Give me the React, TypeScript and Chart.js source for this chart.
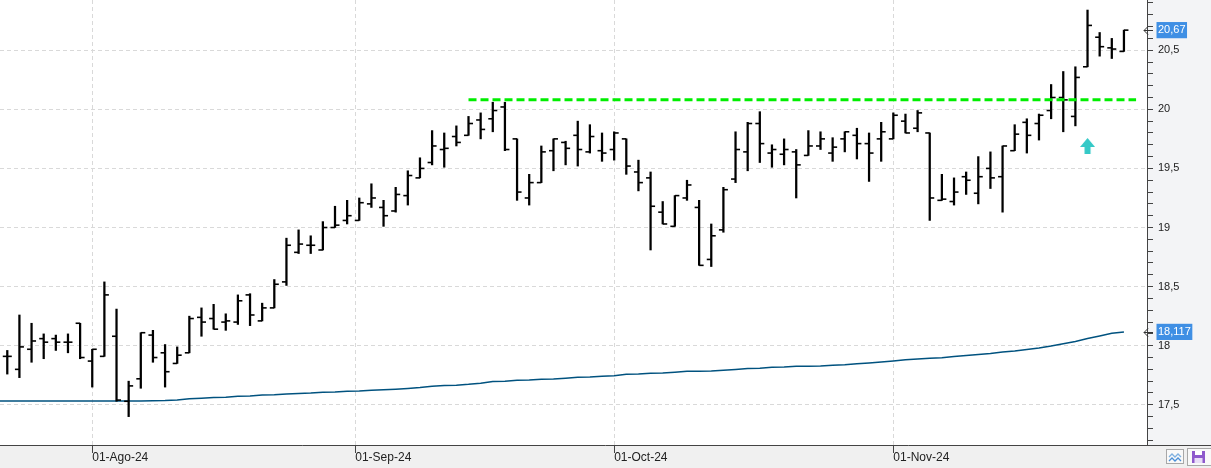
import React, { useEffect, useRef } from 'react';
import { Chart, registerables } from 'chart.js';

Chart.register(...registerables);

// ---- categories: trading sessions ----
const julDays = [23, 24, 25, 26, 29, 30, 31];
const augDays = [1, 2, 5, 6, 7, 8, 9, 12, 13, 14, 15, 16, 19, 20, 21, 22, 23, 26, 27, 28, 29, 30];
const sepDays = [2, 3, 4, 5, 6, 9, 10, 11, 12, 13, 16, 17, 18, 19, 20, 23, 24, 25, 26, 27, 30];
const octDays = [1, 2, 3, 4, 7, 8, 9, 10, 11, 14, 15, 16, 17, 18, 21, 22, 23, 24, 25, 28, 29, 30, 31];
const novDays = [1, 4, 5, 6, 7, 8, 11, 12, 13, 14, 15, 18, 19, 20, 21, 22, 25, 26, 27, 28];
const tradingDays: string[] = [
  ...julDays.map((d) => `${d}-Jul-24`),
  ...augDays.map((d) => `${d}-Ago-24`),
  ...sepDays.map((d) => `${d}-Sep-24`),
  ...octDays.map((d) => `${d}-Oct-24`),
  ...novDays.map((d) => `${d}-Nov-24`),
];

// ---- OHLC series ----
const opens = [
  17.91, 17.80, 17.97, 18.06, 18.06, 18.03, 18.19, 17.87, 17.91, 18.08,
  17.53, 17.72, 18.09, 17.94, 17.85, 17.94, 18.24, 18.23, 18.20, 18.20,
  18.43, 18.21, 18.32, 18.54, 18.79, 18.85, 18.81, 19.00, 19.06, 19.06,
  19.20, 19.17, 19.14, 19.27, 19.42, 19.55, 19.66, 19.77, 19.78, 19.91,
  19.92, 20.02, 19.75, 19.25, 19.38, 19.65, 19.72, 19.78, 19.64, 19.65,
  19.66, 19.75, 19.47, 19.42, 19.13, 19.01, 19.25, 19.17, 18.73, 18.98,
  19.41, 19.64, 19.88, 19.63, 19.62, 19.64, 19.61, 19.69, 19.63, 19.75,
  19.78, 19.71, 19.75, 19.75, 19.90, 19.84, 19.80, 19.23, 19.22, 19.43,
  19.29, 19.50, 19.43, 19.65, 19.89, 19.88, 19.99, 20.10, 19.94, 20.36,
  20.61, 20.52, 20.49,
];
const highs = [
  17.96, 18.26, 18.19, 18.10, 18.09, 18.10, 18.19, 17.97, 18.54, 18.31,
  17.70, 18.11, 18.13, 18.01, 17.99, 18.25, 18.32, 18.35, 18.27, 18.43,
  18.44, 18.36, 18.56, 18.91, 18.98, 18.93, 19.05, 19.18, 19.23, 19.25,
  19.37, 19.23, 19.34, 19.48, 19.59, 19.82, 19.80, 19.86, 19.94, 19.97,
  20.06, 20.06, 19.75, 19.45, 19.69, 19.75, 19.73, 19.90, 19.87, 19.80,
  19.81, 19.75, 19.57, 19.47, 19.22, 19.27, 19.40, 19.23, 19.03, 19.34,
  19.81, 19.89, 19.98, 19.70, 19.75, 19.66, 19.82, 19.81, 19.76, 19.81,
  19.84, 19.80, 19.89, 19.97, 19.96, 19.99, 19.80, 19.45, 19.42, 19.47,
  19.60, 19.64, 19.69, 19.87, 19.92, 19.96, 20.21, 20.32, 20.36, 20.84,
  20.65, 20.60, 20.67,
];
const lows = [
  17.76, 17.73, 17.86, 17.89, 17.96, 17.94, 17.89, 17.65, 17.91, 17.53,
  17.40, 17.64, 17.86, 17.65, 17.85, 17.94, 18.08, 18.14, 18.13, 18.18,
  18.17, 18.21, 18.32, 18.51, 18.78, 18.78, 18.81, 19.00, 19.03, 19.06,
  19.17, 19.01, 19.13, 19.19, 19.42, 19.53, 19.51, 19.69, 19.78, 19.75,
  19.81, 19.65, 19.23, 19.19, 19.38, 19.48, 19.53, 19.52, 19.63, 19.56,
  19.57, 19.45, 19.31, 18.81, 19.03, 19.01, 19.23, 18.68, 18.67, 18.96,
  19.38, 19.48, 19.55, 19.51, 19.53, 19.25, 19.61, 19.66, 19.56, 19.64,
  19.58, 19.39, 19.56, 19.75, 19.80, 19.81, 19.06, 19.23, 19.19, 19.28,
  19.20, 19.33, 19.13, 19.65, 19.63, 19.74, 19.92, 19.81, 19.86, 20.36,
  20.45, 20.43, 20.49,
];
const closes = [
  17.91, 17.99, 18.04, 18.03, 18.03, 18.03, 17.90, 17.97, 18.43, 17.54,
  17.66, 18.11, 17.90, 17.78, 17.92, 18.23, 18.20, 18.14, 18.21, 18.38,
  18.26, 18.32, 18.52, 18.85, 18.86, 18.85, 19.00, 19.02, 19.10, 19.21,
  19.25, 19.10, 19.28, 19.44, 19.50, 19.69, 19.67, 19.72, 19.88, 19.83,
  19.99, 19.66, 19.30, 19.38, 19.64, 19.75, 19.67, 19.66, 19.77, 19.63,
  19.80, 19.52, 19.38, 19.18, 19.03, 19.27, 19.36, 18.68, 18.93, 19.32,
  19.66, 19.88, 19.71, 19.66, 19.66, 19.53, 19.69, 19.75, 19.68, 19.81,
  19.71, 19.63, 19.81, 19.95, 19.80, 19.97, 19.25, 19.24, 19.30, 19.40,
  19.43, 19.42, 19.69, 19.79, 19.78, 19.95, 20.10, 20.08, 20.27, 20.71,
  20.53, 20.51, 20.67,
];

// ---- moving average (first value belongs to the session before the view) ----
const maStartIndex = -1;
const movingAverage = [
  17.532, 17.532, 17.532, 17.532, 17.532, 17.532, 17.532, 17.532, 17.532, 17.532,
  17.532, 17.532, 17.532, 17.535, 17.536, 17.541, 17.552, 17.556, 17.562, 17.565,
  17.573, 17.574, 17.582, 17.585, 17.591, 17.596, 17.600, 17.607, 17.608, 17.615,
  17.617, 17.623, 17.627, 17.632, 17.639, 17.646, 17.657, 17.663, 17.666, 17.673,
  17.683, 17.697, 17.700, 17.707, 17.710, 17.716, 17.718, 17.725, 17.733, 17.735,
  17.741, 17.746, 17.758, 17.761, 17.767, 17.769, 17.775, 17.783, 17.783, 17.786,
  17.792, 17.799, 17.807, 17.810, 17.817, 17.820, 17.826, 17.826, 17.828, 17.834,
  17.838, 17.847, 17.854, 17.862, 17.871, 17.881, 17.887, 17.893, 17.899, 17.909,
  17.917, 17.926, 17.934, 17.947, 17.955, 17.968, 17.981, 17.997, 18.016, 18.036,
  18.061, 18.082, 18.105, 18.117,
];

// ---- resistance level and breakout signal ----
const resistanceLevel = 20.08;
const resistanceFromIndex = 38;
const resistanceToIndex = 93;
const signalIndex = 89;
const signalValue = 19.69;

// ---- axis ticks ----
const monthTickIndex = [7, 28.67, 50, 73];
const monthTickLabels = ['01-Ago-24', '01-Sep-24', '01-Oct-24', '01-Nov-24'];
const viewStart = -0.6;
const viewEnd = 93.9;
const priceMin = 17.16;
const priceMax = 20.925;

const lastClose = closes[closes.length - 1];
const lastMa = movingAverage[movingAverage.length - 1];

const FONT = 'Liberation Sans';

const isTag = (v: number) => v === lastClose || v === lastMa;
const isMajor = (v: number) => !isTag(v) && Math.abs(v * 2 - Math.round(v * 2)) < 1e-6;
const fmt = (v: number, d: number) => v.toFixed(d).replace('.', ',');

function makeArrow(): HTMLCanvasElement {
  const c = document.createElement('canvas');
  c.width = 15;
  c.height = 16;
  const g = c.getContext('2d')!;
  g.fillStyle = '#35c9c7';
  g.beginPath();
  g.moveTo(7.5, 0);
  g.lineTo(15, 9);
  g.lineTo(10.5, 9);
  g.lineTo(10.5, 16);
  g.lineTo(4.5, 16);
  g.lineTo(4.5, 9);
  g.lineTo(0, 9);
  g.closePath();
  g.fill();
  return c;
}

const framePlugin = {
  id: 'frame',
  beforeDraw(chart: any) {
    const { ctx, width, height, chartArea: a } = chart;
    ctx.save();
    ctx.fillStyle = '#f3f4f6';
    ctx.fillRect(0, 0, width, height);
    ctx.fillStyle = '#f0f0f0';
    ctx.fillRect(0, a.bottom, width, height - a.bottom);
    ctx.fillStyle = '#ffffff';
    ctx.fillRect(a.left, a.top, a.right - a.left, a.bottom - a.top);
    ctx.restore();
  },
  afterDraw(chart: any) {
    const { ctx, width, chartArea: a } = chart;
    ctx.save();
    ctx.strokeStyle = '#444';
    ctx.lineWidth = 1;
    const yb = Math.round(a.bottom) + 0.5;
    ctx.beginPath();
    ctx.moveTo(0, yb);
    ctx.lineTo(width, yb);
    ctx.stroke();
    const ys = chart.scales.y;
    ctx.strokeStyle = '#333';
    [lastClose, lastMa].forEach((v) => {
      const y = Math.round(ys.getPixelForValue(v)) + 0.5;
      const x0 = ys.left - 3;
      ctx.beginPath();
      ctx.moveTo(x0, y);
      ctx.lineTo(x0 + 9, y);
      ctx.moveTo(x0 + 4, y - 4);
      ctx.lineTo(x0, y);
      ctx.lineTo(x0 + 4, y + 4);
      ctx.stroke();
    });
    ctx.restore();
  },
};

export default function App() {
  const ref = useRef<HTMLCanvasElement | null>(null);

  useEffect(() => {
    document.body.style.margin = '0';
    document.body.style.overflow = 'hidden';
    const canvas = ref.current;
    if (!canvas) return;
    const arrowImg = makeArrow();

    const chart = new Chart(canvas, {
      type: 'bar',
      data: {
        labels: tradingDays,
        datasets: [
          {
            type: 'line',
            label: 'Resistencia',
            data: [
              { x: resistanceFromIndex, y: resistanceLevel },
              { x: resistanceToIndex, y: resistanceLevel },
            ],
            borderColor: '#00ee00',
            borderWidth: 3,
            borderDash: [8, 4],
            pointRadius: 0,
            order: 0,
          } as any,
          {
            type: 'scatter',
            label: 'Señal',
            data: [{ x: signalIndex, y: signalValue }],
            pointStyle: arrowImg,
            pointRadius: 8,
            order: 1,
          } as any,
          {
            type: 'scatter',
            label: 'Apertura',
            data: opens.map((v, i) => ({ x: i, y: v })),
            pointStyle: 'dash',
            pointRotation: 180,
            pointRadius: 4.5,
            pointBorderWidth: 1.6,
            pointBorderColor: '#000',
            pointBackgroundColor: '#000',
            order: 2,
          } as any,
          {
            type: 'scatter',
            label: 'Cierre',
            data: closes.map((v, i) => ({ x: i, y: v })),
            pointStyle: 'dash',
            pointRotation: 0,
            pointRadius: 4.5,
            pointBorderWidth: 1.6,
            pointBorderColor: '#000',
            pointBackgroundColor: '#000',
            order: 3,
          } as any,
          {
            type: 'bar',
            label: 'Rango',
            data: highs.map((h, i) => ({ x: i, y: [lows[i], h] })),
            backgroundColor: '#000',
            borderWidth: 0,
            barThickness: 1.6,
            order: 4,
          } as any,
          {
            type: 'line',
            label: 'Media',
            data: movingAverage.map((v, k) => ({ x: k + maStartIndex, y: v })),
            borderColor: '#00527f',
            borderWidth: 1.5,
            pointRadius: 0,
            tension: 0,
            order: 5,
          } as any,
        ],
      },
      options: {
        animation: false,
        responsive: false,
        maintainAspectRatio: false,
        devicePixelRatio: 1,
        events: [],
        layout: { padding: 0, autoPadding: false },
        plugins: { legend: { display: false }, tooltip: { enabled: false } },
        scales: {
          x: {
            type: 'linear',
            min: viewStart,
            max: viewEnd,
            bounds: 'data',
            offset: false,
            afterBuildTicks: (s: any) => {
              s.ticks = monthTickIndex.map((v) => ({ value: v }));
            },
            afterFit: (s: any) => {
              s.height = 23;
              s.paddingLeft = 0;
              s.paddingRight = 0;
            },
            ticks: {
              autoSkip: false,
              maxRotation: 0,
              minRotation: 0,
              align: 'start',
              padding: -3,
              color: '#222',
              font: { family: FONT, size: 12 },
              callback: (v: any) => {
                const k = monthTickIndex.indexOf(Number(v));
                return k >= 0 ? monthTickLabels[k] : '';
              },
            },
            grid: {
              color: '#d9d9d9',
              lineWidth: 1,
              drawTicks: true,
              tickLength: 8,
              tickColor: '#444',
              tickWidth: 1,
              offset: false,
            },
            border: { display: false, dash: [4, 3] },
          },
          y: {
            type: 'linear',
            position: 'right',
            min: priceMin,
            max: priceMax,
            bounds: 'data',
            afterBuildTicks: (s: any) => {
              const t: { value: number }[] = [];
              for (let k = 172; k <= 209; k++) t.push({ value: k / 10 });
              t.push({ value: lastClose }, { value: lastMa });
              t.sort((a, b) => a.value - b.value);
              s.ticks = t;
            },
            afterFit: (s: any) => {
              s.width = 64;
              s.paddingTop = 0;
              s.paddingBottom = 0;
            },
            ticks: {
              autoSkip: false,
              padding: 5,
              callback: (v: any) => {
                const n = Number(v);
                if (n === lastClose) return fmt(n, 2);
                if (n === lastMa) return fmt(n, 3);
                if (isMajor(n)) return String(n).replace('.', ',');
                return '';
              },
              color: (c: any) => (c.tick && isTag(c.tick.value) ? '#ffffff' : '#222'),
              font: (c: any) => ({
                family: FONT,
                size: c.tick && (isTag(c.tick.value) || isMajor(c.tick.value)) ? 11 : 1,
              }),
              showLabelBackdrop: (c: any) => !!(c.tick && isTag(c.tick.value)),
              backdropColor: '#3f8fe4',
              backdropPadding: { x: 1.5, y: 1.5 },
            } as any,
            grid: {
              color: (c: any) => (c.tick && isMajor(c.tick.value) ? '#d9d9d9' : 'rgba(0,0,0,0)'),
              tickColor: (c: any) => (c.tick && isTag(c.tick.value) ? 'rgba(0,0,0,0)' : '#444'),
              lineWidth: 1,
              tickLength: 6,
              tickWidth: 1,
            },
            border: { display: true, color: '#444', width: 1, dash: [4, 3] },
          },
        },
      } as any,
      plugins: [framePlugin],
    });

    return () => chart.destroy();
  }, []);

  return (
    <div style={{ position: 'absolute', left: 0, top: 0, width: 1211, height: 468 }}>
      <canvas ref={ref} width={1211} height={468} style={{ display: 'block', width: 1211, height: 468 }} />
      <div
        style={{
          position: 'absolute', left: 1166, top: 449, width: 16, height: 13,
          border: '1px solid #a8a8a8', background: '#f9f9f9',
        }}
      >
        <svg width="16" height="13" viewBox="0 0 16 13">
          <polyline points="2,6 5,3 8,6 11,3 14,6" fill="none" stroke="#7fb0e0" strokeWidth="1.3" />
          <polyline points="2,10 5,7 8,10 11,7 14,10" fill="none" stroke="#4a8fd8" strokeWidth="1.3" />
        </svg>
      </div>
      <div
        style={{
          position: 'absolute', left: 1187, top: 448, width: 30, height: 16,
          border: '1px solid #a8a8a8', background: '#f9f9f9',
        }}
      >
        <svg width="24" height="16" viewBox="0 0 24 16">
          <rect x="4" y="2" width="13" height="12" fill="#8e59cc" />
          <rect x="7" y="2" width="7" height="4" fill="#ffffff" />
          <rect x="6.5" y="9" width="8" height="5" fill="#e9def7" />
        </svg>
      </div>
    </div>
  );
}
